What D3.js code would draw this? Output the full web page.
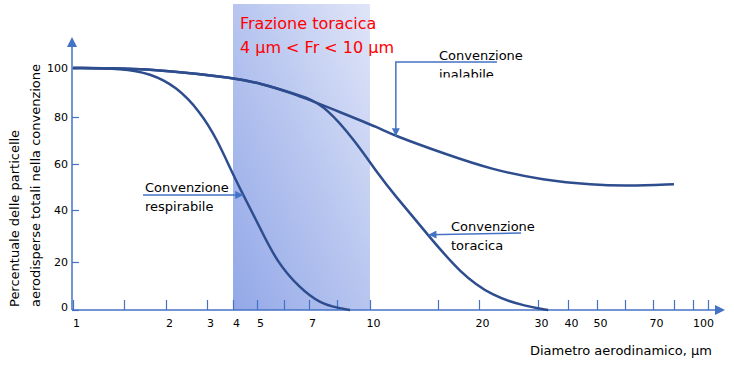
<!DOCTYPE html>
<html>
<head>
<meta charset="utf-8">
<script src="https://cdn.jsdelivr.net/npm/d3@7"></script>
<style>
  body { margin: 0; background: #fff; }
  svg { display: block; font-family: "DejaVu Sans", Verdana, sans-serif; }
</style>
</head>
<body>
<svg id="chart" width="734" height="365"></svg>
<script>
// Ticks of the diameter axis (hand drawn, only roughly logarithmic)
var xTickValues = [1, 1.5, 2, 3, 4, 5, 6, 7, 8, 10, 15, 20, 30, 40, 50, 60, 70, 80, 90, 100];
var xTickLabels = [1, 2, 3, 4, 5, 7, 10, 20, 30, 40, 50, 70, 100];
var yTickValues = [0, 20, 40, 60, 80, 100];

// Convenzione inalabile
var inhalDiam = [1, 1.46, 2.1, 4, 5.11, 6.36, 8.36, 10.74, 11.7, 15.6, 22.4, 31.7, 48.6, 60.7, 80];
var inhalPct  = [100, 99.9, 98.9, 96, 93.8, 89.7, 81.5, 75.2, 72.3, 64.6, 57.4, 53, 50.9, 50.4, 51.2];

// Convenzione toracica
var thorDiam = [1, 1.46, 2.1, 4, 5.11, 6.36, 7, 7.63, 8.99, 10.74, 11.7, 14.17, 17.7, 22.4, 28, 33.4];
var thorPct  = [100, 99.9, 98.9, 96, 93.8, 89.7, 87.6, 83.6, 70.9, 54.5, 47.3, 31, 15.3, 5.5, 1.5, 0];

// Convenzione respirabile
var respDiam = [1, 1.49, 1.81, 2.26, 2.83, 3.37, 4.01, 4.43, 5.12, 5.73, 6.64, 7.39, 8.1, 8.79];
var respPct  = [100, 99.8, 97.8, 92.4, 82.2, 70.9, 55.2, 46.5, 33, 20.1, 9, 2.8, 0.8, 0];

// Frazione toracica band, in µm
var thoracicBand = [4, 10];

// layout: where each tick sits on screen
var xTickPos = [73, 124, 166, 207, 233, 257, 284, 309, 337, 370, 438, 479, 538, 568, 597, 625, 653, 674, 693, 708];
var yTickPos = [310, 262, 210, 164, 117, 68];

var axisColor = "#4472c4",
    curveColor = "#2e4d8e";

var svg = d3.select("#chart");

var x = d3.scaleLinear().domain(xTickValues).range(xTickPos);
var y = d3.scaleLinear().domain(yTickValues).range(yTickPos);

var defs = svg.append("defs");

var grad = defs.append("linearGradient")
    .attr("id", "bandGrad")
    .attr("x1", 0).attr("y1", 1)
    .attr("x2", 1).attr("y2", 0);
grad.append("stop").attr("offset", 0).attr("stop-color", "#93a8e8");
grad.append("stop").attr("offset", 0.5).attr("stop-color", "#b7c5ef");
grad.append("stop").attr("offset", 1).attr("stop-color", "#e0e5f8");

defs.append("marker")
    .attr("id", "axisArrow")
    .attr("viewBox", "0 0 10 10")
    .attr("refX", 0).attr("refY", 5)
    .attr("markerWidth", 10).attr("markerHeight", 10)
    .attr("markerUnits", "userSpaceOnUse")
    .attr("orient", "auto")
  .append("path")
    .attr("d", "M0,0L10,5L0,10Z")
    .attr("fill", axisColor);

defs.append("marker")
    .attr("id", "noteArrow")
    .attr("viewBox", "0 0 10 10")
    .attr("refX", 10).attr("refY", 5)
    .attr("markerWidth", 9).attr("markerHeight", 8)
    .attr("markerUnits", "userSpaceOnUse")
    .attr("orient", "auto")
  .append("path")
    .attr("d", "M0,0L10,5L0,10Z")
    .attr("fill", axisColor);

defs.append("clipPath")
    .attr("id", "inhalClip")
  .append("rect")
    .attr("x", 430).attr("y", 40)
    .attr("width", 120).attr("height", 37.5);

// shaded thoracic band
svg.append("rect")
    .attr("x", x(thoracicBand[0]))
    .attr("y", 4)
    .attr("width", x(thoracicBand[1]) - x(thoracicBand[0]))
    .attr("height", y(0) - 4)
    .attr("fill", "url(#bandGrad)");

// x axis
var xAxis = svg.append("g")
    .attr("transform", "translate(0," + y(0) + ")")
    .call(d3.axisBottom(x)
      .tickValues(xTickValues)
      .tickSizeInner(-10)
      .tickSizeOuter(0)
      .tickPadding(9)
      .tickFormat(function(d) { return xTickLabels.indexOf(d) >= 0 ? d : ""; }));
xAxis.select(".domain").remove();
xAxis.selectAll("line").attr("stroke", axisColor).attr("stroke-width", 1.2);
xAxis.selectAll("text")
    .attr("dx", function(d) { return d === 100 ? -5 : 3; })
    .attr("fill", "#000")
    .attr("font-size", 11)
    .attr("font-family", "DejaVu Sans, Verdana, sans-serif");

svg.append("line")
    .attr("x1", 72).attr("y1", y(0))
    .attr("x2", 715).attr("y2", y(0))
    .attr("stroke", axisColor)
    .attr("stroke-width", 1.5)
    .attr("marker-end", "url(#axisArrow)");

// y axis
var yAxis = svg.append("g")
    .attr("transform", "translate(72,0)")
    .call(d3.axisLeft(y)
      .tickValues(yTickValues)
      .tickSizeInner(-7)
      .tickSizeOuter(0)
      .tickPadding(4));
yAxis.select(".domain").remove();
yAxis.selectAll("line").attr("stroke", axisColor).attr("stroke-width", 1.2);
yAxis.selectAll("text")
    .attr("dy", function(d) { return d === 0 ? "0" : "0.32em"; })
    .attr("fill", "#000")
    .attr("font-size", 11)
    .attr("font-family", "DejaVu Sans, Verdana, sans-serif");

svg.append("line")
    .attr("x1", 72).attr("y1", y(0))
    .attr("x2", 72).attr("y2", 47)
    .attr("stroke", axisColor)
    .attr("stroke-width", 1.5)
    .attr("marker-end", "url(#axisArrow)");

// curves (B-spline through the points)
var line = d3.line()
    .x(function(d) { return x(d[0]); })
    .y(function(d) { return y(d[1]); })
    .curve(d3.curveBasis);

[[inhalDiam, inhalPct], [thorDiam, thorPct], [respDiam, respPct]].forEach(function(s) {
  svg.append("path")
      .datum(d3.zip(s[0], s[1]))
      .attr("d", line)
      .attr("fill", "none")
      .attr("stroke", curveColor)
      .attr("stroke-width", 2.5);
});

// annotations
function note(lines, tx, ty, points, clip) {
  svg.append("path")
      .attr("d", d3.line()(points))
      .attr("fill", "none")
      .attr("stroke", axisColor)
      .attr("stroke-width", 1.5)
      .attr("marker-end", "url(#noteArrow)");
  var t = svg.append("text")
      .attr("x", tx).attr("y", ty)
      .attr("font-size", 13)
      .attr("fill", "#000");
  if (clip) t.attr("clip-path", "url(#" + clip + ")");
  lines.forEach(function(l, i) {
    t.append("tspan").attr("x", tx).attr("dy", i ? 19 : 0).text(l);
  });
}

note(["Convenzione", "respirabile"], 145, 192,
     [[143, 195], [x(4.43), y(46.5)]]);
note(["Convenzione", "toracica"], 451, 231,
     [[521, 233], [x(14.3), y(30.5)]]);
note(["Convenzione", "inalabile"], 439, 60,
     [[497, 62], [x(11.9), 62], [x(11.9), y(71.8)]], "inhalClip");

// title of the band
svg.append("text")
    .attr("x", 240).attr("y", 29)
    .attr("font-size", 16)
    .attr("fill", "#ff0000")
    .text("Frazione toracica");
svg.append("text")
    .attr("x", 240).attr("y", 53)
    .attr("font-size", 16)
    .attr("fill", "#ff0000")
    .text("4 μm < Fr < 10 μm");

// axis titles
svg.append("text")
    .attr("transform", "translate(19,307) rotate(-90)")
    .attr("font-size", 13)
    .attr("fill", "#000")
    .text("Percentuale  delle particelle");
svg.append("text")
    .attr("transform", "translate(39.5,307) rotate(-90)")
    .attr("font-size", 13)
    .attr("fill", "#000")
    .text("aerodisperse totali nella convenzione");

svg.append("text")
    .attr("x", 712).attr("y", 355)
    .attr("text-anchor", "end")
    .attr("font-size", 13)
    .attr("fill", "#000")
    .text("Diametro aerodinamico, μm");
</script>
</body>
</html>
